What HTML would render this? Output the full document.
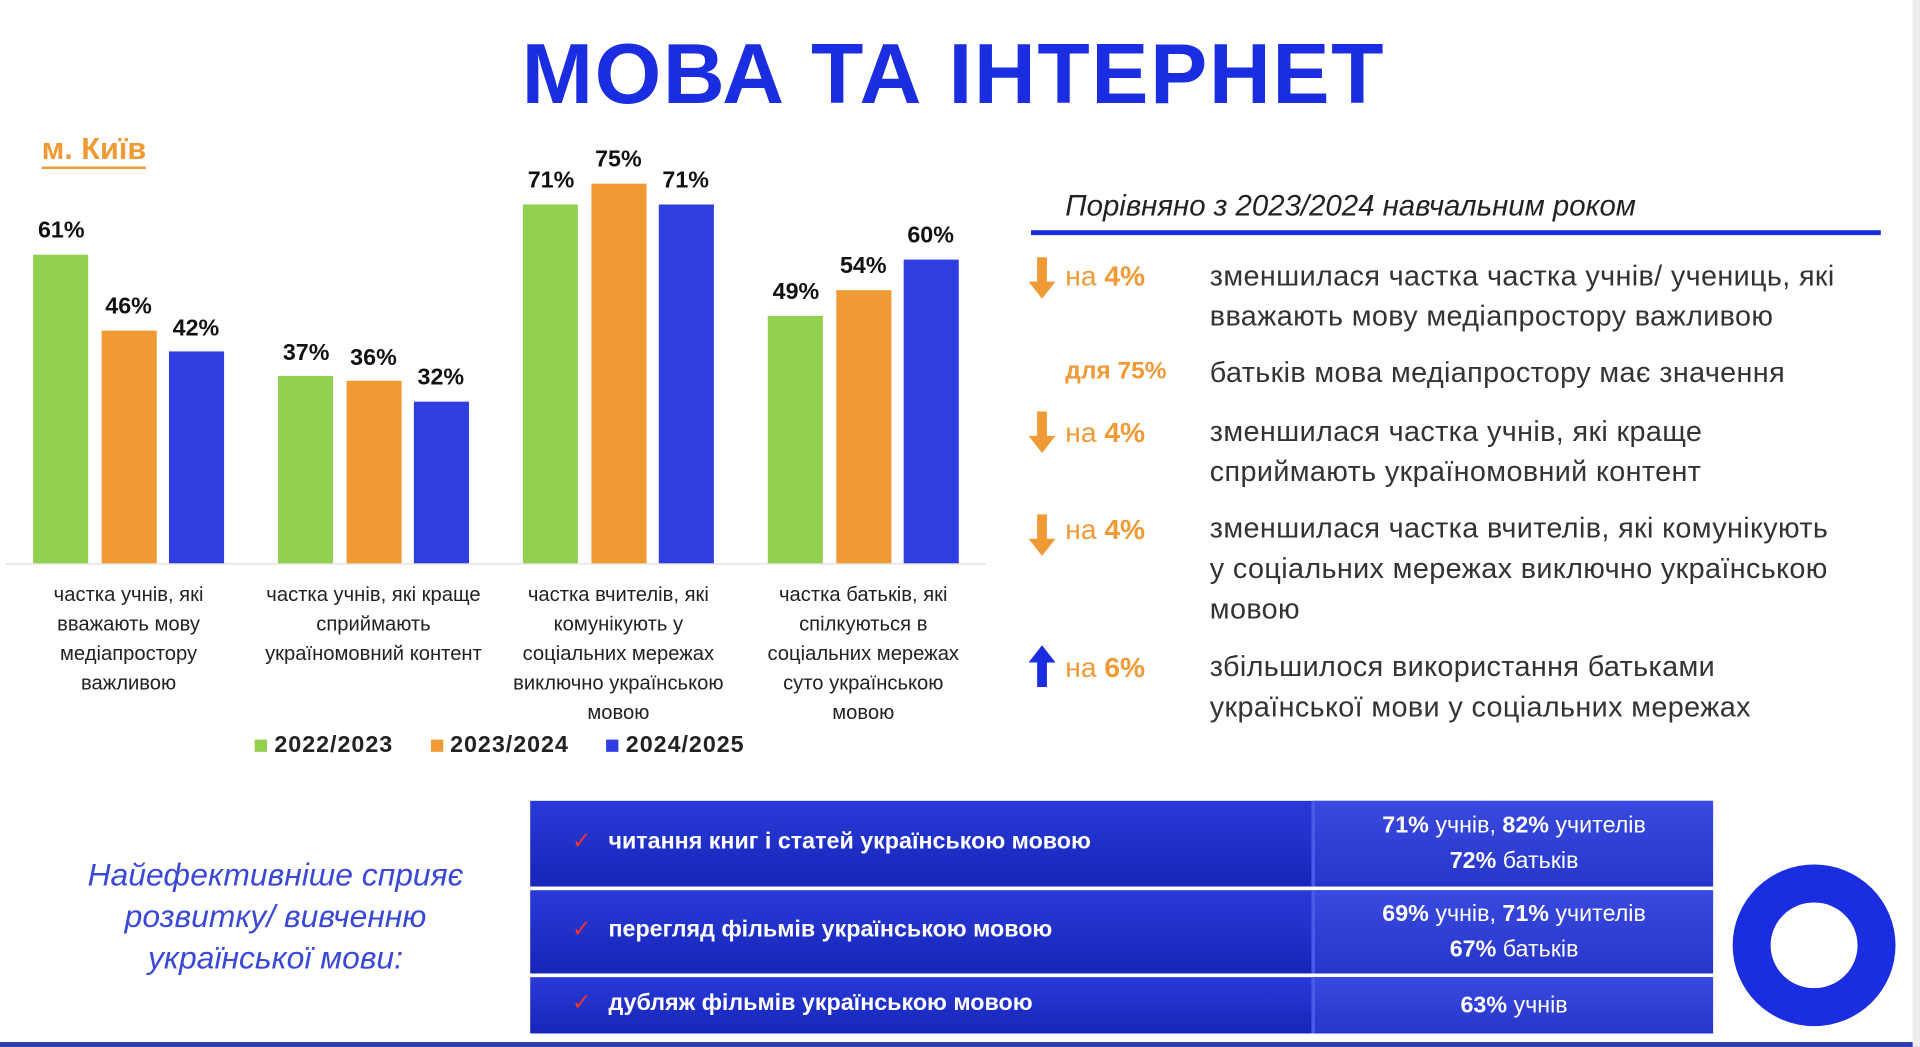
<!DOCTYPE html>
<html><head><meta charset="utf-8"><style>
html,body{margin:0;padding:0;background:#fff;overflow:hidden}
#w{width:1568px;height:855px;position:relative;transform:scale(1.22449);transform-origin:0 0;font-family:"Liberation Sans","DejaVu Sans",sans-serif}
.a{position:absolute}
.bar{position:absolute;width:45px}
.g{background:#92d050}.o{background:#f09a35}.b{background:#2e3ee0}
.lbl{position:absolute;width:60px;text-align:center;font-weight:bold;font-size:19px;color:#111}
.cat{position:absolute;width:196px;text-align:center;font-size:16.5px;line-height:24px;color:#222;top:474px}
.txt{position:absolute;left:988px;font-size:23.5px;line-height:33px;color:#333;letter-spacing:0.3px}
.na{position:absolute;left:870px;font-size:23px;color:#f09a35}
.na b{font-weight:bold}
.arr{position:absolute;left:840px;width:22px;height:34px}
.row{position:absolute;left:433px;width:966px;background:linear-gradient(#2a3ad8,#1626b8);color:#fff;font-weight:bold;font-size:19px}
.row .l{position:absolute;left:0;top:0;bottom:0;width:638px;border-right:3px solid #4a5ae8}
.row .r{position:absolute;left:641px;right:0;top:0;bottom:0;background:linear-gradient(#3a4ae0,#2636c8);text-align:center;display:flex;flex-direction:column;justify-content:center;font-weight:normal;line-height:29px}
.row .r b{font-weight:bold}
.ck{color:#e33;font-weight:normal;margin-right:14px}
</style></head><body><div id="w">
<div class="a" style="left:426px;top:20px;font-size:70px;font-weight:bold;color:#1b2de0;letter-spacing:1.3px">МОВА ТА ІНТЕРНЕТ</div>
<div class="a" style="left:34px;top:108px;font-size:25px;font-weight:bold;color:#f09a35;border-bottom:2px solid #f09a35;line-height:28px">м. Київ</div>
<div class="a" style="left:5px;top:460px;width:800px;height:1px;background:#ddd"></div>

<div class="bar g" style="left:27px;top:208px;height:252px"></div><div class="lbl" style="left:20px;top:178px">61%</div>
<div class="bar o" style="left:83px;top:270px;height:190px"></div><div class="lbl" style="left:75px;top:240px">46%</div>
<div class="bar b" style="left:138px;top:287px;height:173px"></div><div class="lbl" style="left:130px;top:258px">42%</div>

<div class="bar g" style="left:227px;top:307px;height:153px"></div><div class="lbl" style="left:220px;top:278px">37%</div>
<div class="bar o" style="left:283px;top:311px;height:149px"></div><div class="lbl" style="left:275px;top:282px">36%</div>
<div class="bar b" style="left:338px;top:328px;height:132px"></div><div class="lbl" style="left:330px;top:298px">32%</div>

<div class="bar g" style="left:427px;top:167px;height:293px"></div><div class="lbl" style="left:420px;top:137px">71%</div>
<div class="bar o" style="left:483px;top:150px;height:310px"></div><div class="lbl" style="left:475px;top:120px">75%</div>
<div class="bar b" style="left:538px;top:167px;height:293px"></div><div class="lbl" style="left:530px;top:137px">71%</div>

<div class="bar g" style="left:627px;top:258px;height:202px"></div><div class="lbl" style="left:620px;top:228px">49%</div>
<div class="bar o" style="left:683px;top:237px;height:223px"></div><div class="lbl" style="left:675px;top:207px">54%</div>
<div class="bar b" style="left:738px;top:212px;height:248px"></div><div class="lbl" style="left:730px;top:182px">60%</div>

<div class="cat" style="left:7px">частка учнів, які<br>вважають мову<br>медіапростору<br>важливою</div>
<div class="cat" style="left:207px">частка учнів, які краще<br>сприймають<br>україномовний контент</div>
<div class="cat" style="left:407px">частка вчителів, які<br>комунікують у<br>соціальних мережах<br>виключно українською<br>мовою</div>
<div class="cat" style="left:607px">частка батьків, які<br>спілкуються в<br>соціальних мережах<br>суто українською<br>мовою</div>

<div class="a" style="left:208px;top:598px;font-size:19px;font-weight:bold;color:#222;letter-spacing:0.8px;white-space:nowrap">
<span style="display:inline-block;width:10px;height:10px;background:#92d050"></span> 2022/2023 &nbsp;&nbsp;&nbsp;
<span style="display:inline-block;width:10px;height:10px;background:#f09a35"></span> 2023/2024 &nbsp;&nbsp;&nbsp;
<span style="display:inline-block;width:10px;height:10px;background:#2e3ee0"></span> 2024/2025</div>

<div class="a" style="left:870px;top:155px;font-size:24px;font-style:italic;color:#222">Порівняно з 2023/2024 навчальним роком</div>
<div class="a" style="left:842px;top:188px;width:694px;height:4px;background:#1b2de0"></div>

<svg class="arr" style="top:210px" viewBox="0 0 22 34"><path d="M7 0h8v20h7L11 34 0 20h7z" fill="#f09a35"/></svg>
<div class="na" style="top:212px">на <b>4%</b></div>
<div class="txt" style="top:209px">зменшилася частка частка учнів/ учениць, які<br>вважають мову медіапростору важливою</div>
<div class="na" style="top:292px;font-size:20px;font-weight:bold">для 75%</div>
<div class="txt" style="top:288px">батьків мова медіапростору має значення</div>
<svg class="arr" style="top:336px" viewBox="0 0 22 34"><path d="M7 0h8v20h7L11 34 0 20h7z" fill="#f09a35"/></svg>
<div class="na" style="top:340px">на <b>4%</b></div>
<div class="txt" style="top:336px">зменшилася частка учнів, які краще<br>сприймають україномовний контент</div>
<svg class="arr" style="top:420px" viewBox="0 0 22 34"><path d="M7 0h8v20h7L11 34 0 20h7z" fill="#f09a35"/></svg>
<div class="na" style="top:419px">на <b>4%</b></div>
<div class="txt" style="top:415px">зменшилася частка вчителів, які комунікують<br>у соціальних мережах виключно українською<br>мовою</div>
<svg class="arr" style="top:527px" viewBox="0 0 22 34"><path d="M11 0 22 14h-7v20H7V14H0z" fill="#1b2de0"/></svg>
<div class="na" style="top:532px">на <b>6%</b></div>
<div class="txt" style="top:528px">збільшилося використання батьками<br>української мови у соціальних мережах</div>

<div class="a" style="left:40px;top:697px;width:370px;text-align:center;font-size:26px;font-style:italic;color:#3a48d8;line-height:34px">Найефективніше сприяє<br>розвитку/ вивченню<br>української мови:</div>

<div class="row" style="top:654px;height:70px"><div class="l"><div style="padding:22px 0 0 34px"><span class="ck">✓</span>читання книг і статей українською мовою</div></div><div class="r"><div><b>71%</b> учнів, <b>82%</b> учителів</div><div><b>72%</b> батьків</div></div></div>
<div class="row" style="top:727px;height:68px"><div class="l"><div style="padding:21px 0 0 34px"><span class="ck">✓</span>перегляд фільмів українською мовою</div></div><div class="r"><div><b>69%</b> учнів, <b>71%</b> учителів</div><div><b>67%</b> батьків</div></div></div>
<div class="row" style="top:798px;height:46px"><div class="l"><div style="padding:10px 0 0 34px"><span class="ck">✓</span>дубляж фільмів українською мовою</div></div><div class="r"><div><b>63%</b> учнів</div></div></div>

<div class="a" style="left:1415px;top:706px;width:133px;height:132px;border-radius:50%;box-sizing:border-box;border:31px solid #1b2de0"></div>
<div class="a" style="left:0;top:851px;width:1568px;height:4px;background:#2a3ab0"></div>
<div class="a" style="left:1562px;top:0;width:6px;height:855px;background:#eee"></div>
</div></body></html>
